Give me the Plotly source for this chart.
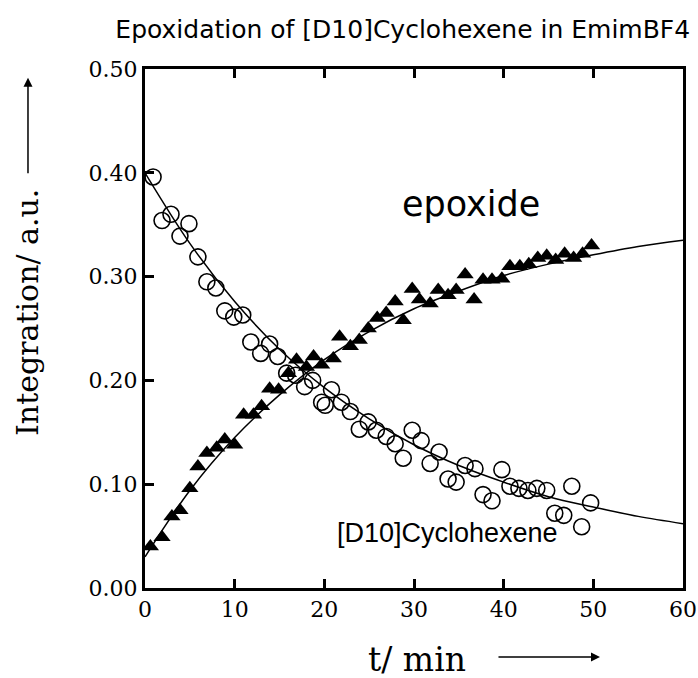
import plotly.graph_objects as go

# Cyclohexene (open circles)
t_cyc = [0.9, 1.9, 2.9, 3.9, 4.9, 5.9, 6.9, 7.9, 8.9, 9.9, 10.9, 11.8, 12.9, 13.9, 14.8,
         15.8, 16.8, 17.8, 18.7, 19.7, 20.1, 20.8, 21.9, 22.9, 23.9, 24.9, 25.8, 26.9, 27.9,
         28.8, 29.8, 30.8, 31.8, 32.8, 33.8, 34.7, 35.7, 36.8, 37.7, 38.7, 39.8, 40.7,
         41.7, 42.7, 43.7, 44.8, 45.7, 46.7, 47.6, 48.7, 49.7]
y_cyc = [0.396, 0.354, 0.360, 0.339, 0.351, 0.319, 0.295, 0.289, 0.267, 0.261, 0.263, 0.237,
         0.226, 0.235, 0.223, 0.207, 0.205, 0.194, 0.200, 0.179, 0.176, 0.191, 0.179, 0.170,
         0.153, 0.160, 0.152, 0.146, 0.139, 0.125, 0.152, 0.142, 0.120, 0.131, 0.105, 0.102,
         0.118, 0.115, 0.090, 0.084, 0.114, 0.098, 0.096, 0.094, 0.096, 0.094, 0.072, 0.070,
         0.098, 0.059, 0.082]

# Epoxide (filled triangles)
t_epo = [0.6, 1.9, 3.0, 3.9, 5.0, 5.9, 6.9, 8.0, 8.9, 10.0, 11.0, 12.1, 13.0, 13.9, 14.9,
         16.0, 16.9, 18.0, 18.8, 19.7, 21.0, 21.7, 22.9, 23.9, 24.9, 25.9, 26.9, 27.9, 28.8,
         29.8, 30.6, 31.8, 32.7, 33.8, 34.7, 35.7, 36.7, 37.7, 38.7, 39.8, 40.7, 41.8,
         42.8, 43.8, 44.8, 45.8, 46.8, 47.8, 48.8, 49.8]
y_epo = [0.040, 0.049, 0.069, 0.075, 0.096, 0.117, 0.130, 0.135, 0.143, 0.138, 0.167, 0.167,
         0.175, 0.192, 0.191, 0.207, 0.220, 0.213, 0.223, 0.215, 0.221, 0.242, 0.233, 0.239,
         0.250, 0.260, 0.265, 0.276, 0.258, 0.288, 0.278, 0.274, 0.287, 0.282, 0.287, 0.302,
         0.278, 0.297, 0.297, 0.298, 0.310, 0.310, 0.312, 0.318, 0.320, 0.316, 0.322, 0.318,
         0.322, 0.330]

# Fitted curves
t_fit = [0, 5, 10, 15, 20, 25, 30, 35, 40, 45, 50, 55, 60]
fit_epo = [0.030, 0.094, 0.145, 0.186, 0.220, 0.247, 0.269, 0.286, 0.301, 0.312, 0.321, 0.329, 0.335]
fit_cyc = [0.400, 0.332, 0.276, 0.230, 0.193, 0.163, 0.138, 0.118, 0.102, 0.088, 0.078, 0.069, 0.062]

x_ticks = [0, 10, 20, 30, 40, 50, 60]
y_ticks = [0.0, 0.1, 0.2, 0.3, 0.4, 0.5]
y_tick_text = ["0.00", "0.10", "0.20", "0.30", "0.40", "0.50"]

fig = go.Figure()
fig.add_trace(go.Scatter(x=t_fit, y=fit_epo, mode="lines", line=dict(color="black", width=1.5, shape="spline"),
                         showlegend=False, hoverinfo="skip"))
fig.add_trace(go.Scatter(x=t_fit, y=fit_cyc, mode="lines", line=dict(color="black", width=1.5, shape="spline"),
                         showlegend=False, hoverinfo="skip"))
fig.add_trace(go.Scatter(x=t_cyc, y=y_cyc, mode="markers", name="[D10]Cyclohexene",
                         marker=dict(symbol="circle-open", size=16, color="black", line=dict(width=1.6)),
                         showlegend=False))
fig.add_trace(go.Scatter(x=t_epo, y=y_epo, mode="markers", name="epoxide",
                         marker=dict(symbol="triangle-up", size=15, color="black"),
                         showlegend=False))

axis_font = dict(family="DejaVu Serif", size=22, color="black")
fig.update_xaxes(range=[0, 60], tickvals=x_ticks, ticks="inside", ticklen=9, tickwidth=2.5,
                 tickcolor="black", showline=True, linewidth=3, linecolor="black", mirror="ticks",
                 showgrid=False, zeroline=False, tickfont=axis_font, automargin=False)
fig.update_yaxes(range=[0, 0.5], tickvals=y_ticks, ticktext=y_tick_text, ticks="inside", ticklen=9,
                 tickwidth=2.5, tickcolor="black", showline=True, linewidth=3, linecolor="black",
                 mirror=True, showgrid=False, zeroline=False, tickfont=axis_font, automargin=False)

fig.update_layout(
    width=698, height=678,
    margin=dict(l=145, r=15, t=69, b=90),
    plot_bgcolor="white", paper_bgcolor="white",
    title=dict(text="Epoxidation of [D10]Cyclohexene in EmimBF4", x=0.577, xanchor="center",
               y=0.957, yanchor="middle", font=dict(family="DejaVu Sans", size=25, color="black")),
)

# axis labels and arrows
fig.add_annotation(text="Integration/ a.u.", xref="paper", yref="paper", x=-0.2175, y=0.5318,
                   xanchor="center", yanchor="middle",
                   textangle=-90, showarrow=False, font=dict(family="DejaVu Serif", size=30, color="black"))
fig.add_annotation(text="", xref="paper", yref="paper", x=-0.2175, y=0.983, ax=0, ay=97,
                   showarrow=True, arrowhead=2, arrowsize=1.2, arrowwidth=1.5, arrowcolor="black")
fig.add_annotation(text="t/ min", xref="paper", yref="paper", x=0.506, y=-0.1387,
                   xanchor="center", yanchor="middle",
                   showarrow=False, font=dict(family="DejaVu Serif", size=33, color="black"))
fig.add_annotation(text="", xref="paper", yref="paper", x=0.8457, y=-0.133, ax=-103, ay=0,
                   showarrow=True, arrowhead=2, arrowsize=1.2, arrowwidth=1.5, arrowcolor="black")

# in-plot labels
fig.add_annotation(text="epoxide", x=36.4, y=0.37, showarrow=False, xanchor="center", yanchor="middle",
                   font=dict(family="DejaVu Sans", size=35, color="black"))
fig.add_annotation(text="[D10]Cyclohexene", x=33.7, y=0.053, showarrow=False, xanchor="center", yanchor="middle",
                   font=dict(family="Liberation Sans", size=27, color="black"))

fig.write_html("out.html")
